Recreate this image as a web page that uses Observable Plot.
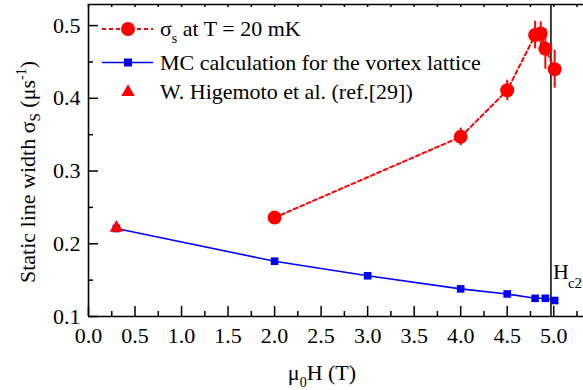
<!DOCTYPE html>
<html><head><meta charset="utf-8">
<script src="https://cdn.jsdelivr.net/npm/d3@7"></script>
<script src="https://cdn.jsdelivr.net/npm/@observablehq/plot@0.6"></script>
<style>
body{margin:0;background:#fff}
#chart{position:relative;width:583px;height:390px}
svg{font-family:"Liberation Serif","Times New Roman",serif}
</style>
</head><body><div id="chart"></div>
<script>
// Measured data: sigma_s at T = 20 mK
const sigmaField = [2.0, 4.0, 4.5, 4.8, 4.86, 4.91, 5.01];
const sigmaValue = [0.236, 0.347, 0.411, 0.487, 0.489, 0.468, 0.440];
const sigmaError = [0.004, 0.012, 0.014, 0.019, 0.016, 0.028, 0.026];
// MC calculation for the vortex lattice
const mcField = [0.3, 2.0, 3.0, 4.0, 4.5, 4.8, 4.91, 5.01];
const mcValue = [0.221, 0.176, 0.156, 0.138, 0.131, 0.125, 0.125, 0.122];
// W. Higemoto et al.
const refField = [0.3];
const refValue = [0.222];
// Hc2
const hc2Field = [4.97];
// ticks
const xMajor = [0, 0.5, 1, 1.5, 2, 2.5, 3, 3.5, 4, 4.5, 5];
const xMinor = [0.25, 0.75, 1.25, 1.75, 2.25, 2.75, 3.25, 3.75, 4.25, 4.75, 5.25];
const yMajor = [0.1, 0.2, 0.3, 0.4, 0.5];
const yMinor = [0.15, 0.25, 0.35, 0.45];
const legendLabels = ["at T = 20 mK", "MC calculation for the vortex lattice", "W. Higemoto et al. (ref.[29])"];

const W = 583, H = 390, mL = 88, mR = 0, mT = 4, mB = 74;
const plotW = W - mL - mR, plotH = H - mT - mB;
const xDomain = [0, 5.32], yDomain = [0.1, 0.529];
const RED = "#ff0000", BLUE = "#0000ff";
const FONT = '"Liberation Serif","Times New Roman",serif';

const sigmaData = sigmaField.map((h, i) => ({h, s: sigmaValue[i], e: sigmaError[i]}));
const mcData = mcField.map((h, i) => ({h, s: mcValue[i]}));
const refData = refField.map((h, i) => ({h, s: refValue[i]}));

const svg = Plot.plot({
  width: W, height: H,
  marginLeft: mL, marginRight: mR, marginTop: mT, marginBottom: mB,
  style: {fontFamily: FONT, fontSize: "22px", color: "black", background: "white"},
  x: {domain: xDomain, label: null},
  y: {domain: yDomain, label: null},
  marks: [
    // frame lines
    Plot.ruleY([yDomain[0]], {stroke: "black", strokeWidth: 1.6}),
    Plot.ruleY([yDomain[1]], {stroke: "black", strokeWidth: 1.6}),
    Plot.ruleX([xDomain[0]], {stroke: "black", strokeWidth: 1.6}),
    // ticks (inward)
    Plot.tickX(xMajor, {x: d => d, insetTop: plotH - 10, stroke: "black", strokeWidth: 1.5}),
    Plot.tickX(xMinor, {x: d => d, insetTop: plotH - 5, stroke: "black", strokeWidth: 1.5}),
    Plot.tickX(xMajor.concat(xMinor), {x: d => d, insetBottom: plotH - 3, stroke: "black", strokeWidth: 1.5}),
    Plot.tickY(yMajor, {y: d => d, insetRight: plotW - 10, stroke: "black", strokeWidth: 1.5}),
    Plot.tickY(yMinor, {y: d => d, insetRight: plotW - 5, stroke: "black", strokeWidth: 1.5}),
    // tick labels
    Plot.axisX(xMajor, {tickSize: 0, tickPadding: 11, tickFormat: d => d.toFixed(1), fontSize: 22, fontFamily: FONT}),
    Plot.axisY(yMajor, {tickSize: 0, tickPadding: 8, tickFormat: d => d.toFixed(1), fontSize: 22, fontFamily: FONT}),
    // Hc2 line
    Plot.ruleX(hc2Field, {x: d => d, stroke: "black", strokeWidth: 1.5}),
    Plot.text(hc2Field, {x: d => d, y: 0.152, text: () => "H", textAnchor: "start", dx: 2, fontSize: 22, fontFamily: FONT, lineAnchor: "bottom"}),
    Plot.text(hc2Field, {x: d => d, y: 0.152, text: () => "c2", textAnchor: "start", dx: 17, dy: 9, fontSize: 15, fontFamily: FONT, lineAnchor: "bottom"}),
    // MC line
    Plot.line(mcData, {x: "h", y: "s", stroke: BLUE, strokeWidth: 1.6}),
    Plot.dot(mcData, {x: "h", y: "s", symbol: "square", r: 4.3, fill: BLUE, stroke: "none"}),
    // sigma measured
    Plot.line(sigmaData, {x: "h", y: "s", stroke: RED, strokeWidth: 2, strokeDasharray: "4,3"}),
    Plot.ruleX(sigmaData, {x: "h", y1: d => d.s - d.e, y2: d => d.s + d.e, stroke: RED, strokeWidth: 2}),
    Plot.dot(sigmaData, {x: "h", y: "s", r: 7, fill: RED, stroke: "none"}),
    // reference
    Plot.dot(refData, {x: "h", y: "s", symbol: "triangle", r: 5, fill: RED, stroke: "none"})
  ]
});
document.getElementById("chart").appendChild(svg);

const s = d3.select(svg);
// Y axis title
const yt = s.append("text")
  .attr("transform", "translate(35,172) rotate(-90)")
  .attr("text-anchor", "middle").attr("font-size", 22).attr("fill", "black").attr("font-family", FONT);
yt.append("tspan").text("Static line width σ");
yt.append("tspan").attr("font-size", 15).attr("dy", 5).text("S");
yt.append("tspan").attr("dy", -5).text(" (μs");
yt.append("tspan").attr("font-size", 14).attr("dy", -9).text("-1");
yt.append("tspan").attr("dy", 9).text(")");
// X axis title
const xt = s.append("text")
  .attr("x", 322).attr("y", 380)
  .attr("text-anchor", "middle").attr("font-size", 22).attr("fill", "black").attr("font-family", FONT);
xt.append("tspan").text("μ");
xt.append("tspan").attr("font-size", 14).attr("dy", 7).text("0");
xt.append("tspan").attr("dy", -7).text("H (T)");

// Legend
const lg = s.append("g").attr("font-family", FONT).attr("font-size", 22).attr("fill", "black").attr("text-anchor", "start");
// row 1
lg.append("line").attr("x1", 102).attr("x2", 153).attr("y1", 29).attr("y2", 29)
  .attr("stroke", RED).attr("stroke-width", 2).attr("stroke-dasharray", "4,3");
lg.append("circle").attr("cx", 128).attr("cy", 29).attr("r", 7).attr("fill", RED);
const t1 = lg.append("text").attr("x", 160).attr("y", 36).attr("text-anchor", "start");
t1.append("tspan").text("σ");
t1.append("tspan").attr("font-size", 14).attr("dy", 7).text("s");
t1.append("tspan").attr("dy", -7).text(" " + legendLabels[0]);
// row 2
lg.append("line").attr("x1", 102).attr("x2", 153).attr("y1", 62.5).attr("y2", 62.5)
  .attr("stroke", BLUE).attr("stroke-width", 1.6);
lg.append("rect").attr("x", 124).attr("y", 58.5).attr("width", 8).attr("height", 8).attr("fill", BLUE);
lg.append("text").attr("x", 160).attr("y", 70).attr("text-anchor", "start").text(legendLabels[1]);
// row 3
lg.append("path").attr("d", d3.symbol(d3.symbolTriangle, Math.PI * 25)()).attr("transform", "translate(128,92)").attr("fill", RED);
lg.append("text").attr("x", 160).attr("y", 99).attr("text-anchor", "start").text(legendLabels[2]);
</script>
</body></html>
